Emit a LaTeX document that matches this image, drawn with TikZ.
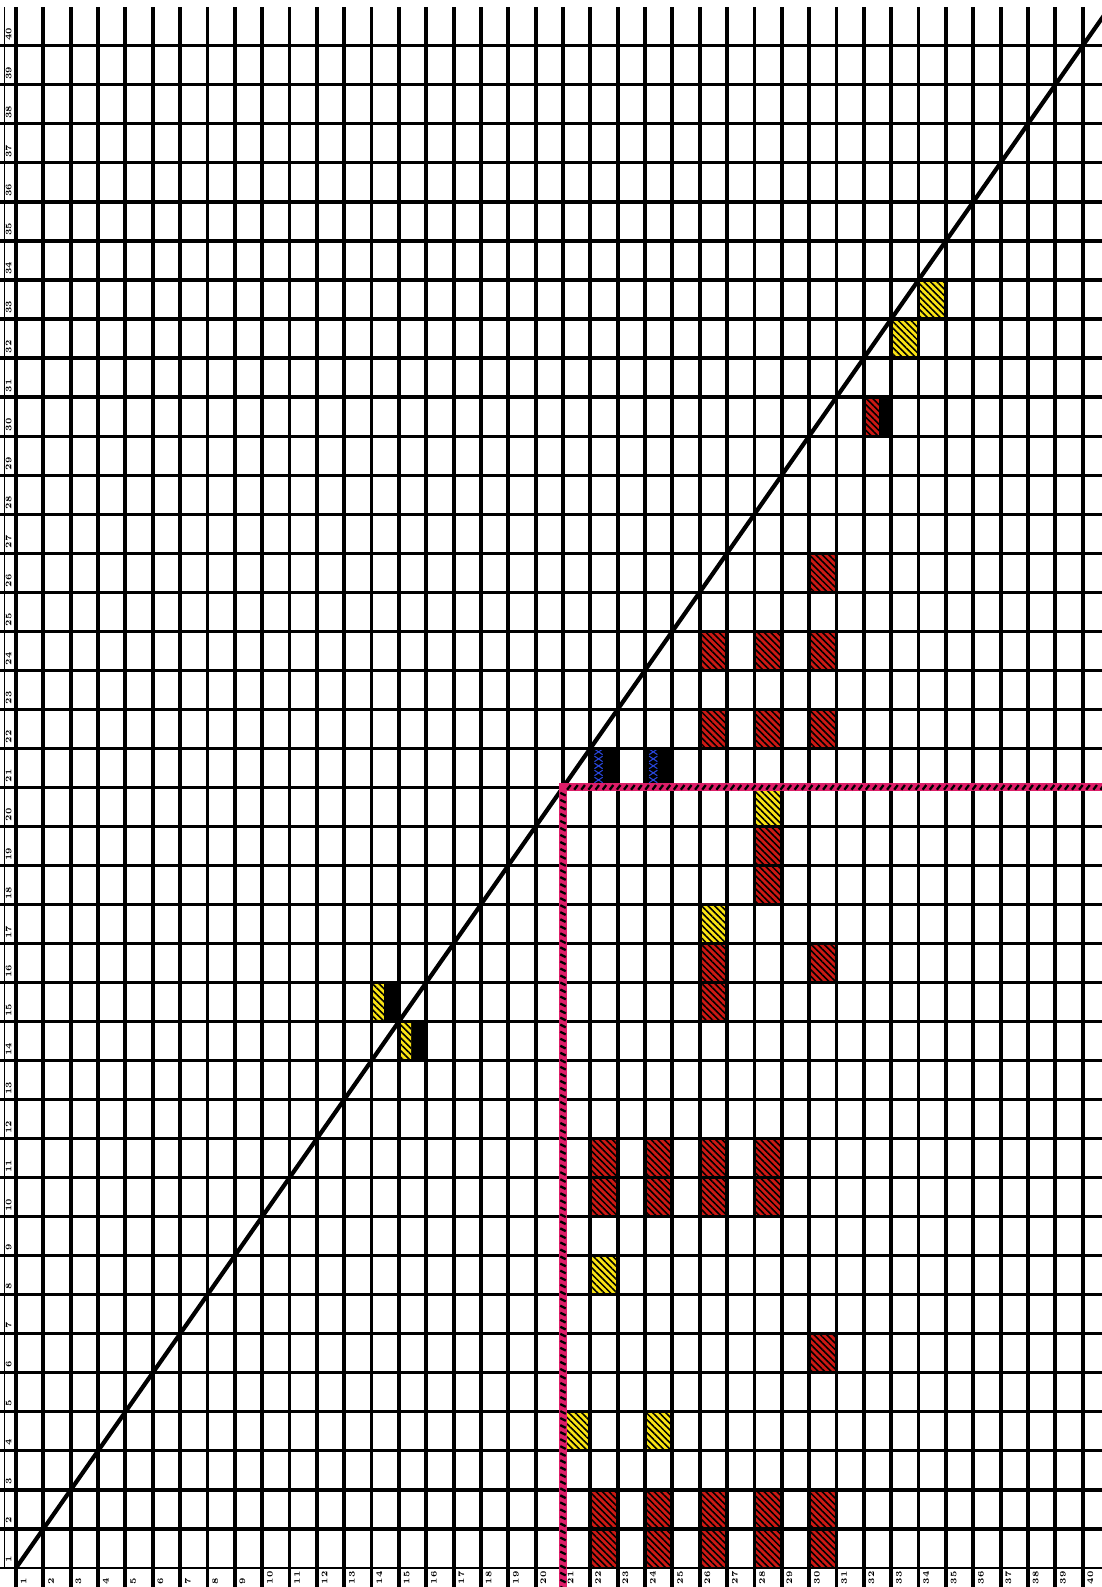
\documentclass[tikz,border=0pt]{standalone}
\usepackage{tikz}
\usetikzlibrary{patterns.meta}

\definecolor{cellred}{RGB}{205,25,20}
\definecolor{cellyellow}{RGB}{250,228,20}
\definecolor{borderpink}{RGB}{222,30,105}
\definecolor{stitchblue}{RGB}{40,70,220}

\begin{document}
\begin{tikzpicture}[x=0.547cm,y=0.7806cm,
  colline/.style={black,line width=2.2pt},
  rowline/.style={black,line width=1.8pt},
  redcell/.style={fill=cellred,rounded corners=1pt,
    postaction={pattern={Lines[angle=-45,distance=2.6pt,line width=0.9pt]},pattern color=black}},
  yellowcell/.style={fill=cellyellow,rounded corners=1pt,
    postaction={pattern={Lines[angle=-45,distance=2.6pt,line width=0.9pt]},pattern color=black}},
  tick/.style={black,line width=1.3pt},
  numlabel/.style={font=\fontsize{4.8}{5}\selectfont\bfseries,inner sep=0pt,rotate=90,anchor=west}]
  \useasboundingbox (-0.585,-0.487) rectangle (39.707,40.174);
  \clip (-0.585,-0.487) rectangle (39.707,40.174);
  \fill[white] (-0.585,-0.487) rectangle (39.707,40.174);
  % hatched cells
  \foreach \c/\r in {22/1,22/2,24/1,24/2,26/1,26/2,28/1,28/2,30/1,30/2,30/6,
      22/10,22/11,24/10,24/11,26/10,26/11,28/10,28/11,26/15,26/16,30/16,
      28/18,28/19,26/22,28/22,30/22,26/24,28/24,30/24,30/26}
    \path[redcell] (\c-1,\r-1) rectangle (\c,\r);
  \foreach \c/\r in {21/4,24/4,22/8,26/17,28/20,33/32,34/33}
    \path[yellowcell] (\c-1,\r-1) rectangle (\c,\r);
  % half cells
  \foreach \c/\r in {14/15,15/14} {
    \fill[black] (\c-0.55,\r-1) rectangle (\c,\r);
    \path[yellowcell] (\c-1,\r-1) rectangle (\c-0.55,\r);
  }
  \fill[black] (31.55,29) rectangle (32,30);
  \path[redcell] (31,29) rectangle (31.55,30);
  \foreach \c in {22,24} {
    \fill[black] (\c-1,20) rectangle (\c,21);
    \foreach \k in {0,...,4}
      \draw[stitchblue,line width=0.6pt]
        (\c-0.85,20.12+0.18*\k) -- (\c-0.55,20.26+0.18*\k)
        (\c-0.85,20.26+0.18*\k) -- (\c-0.55,20.12+0.18*\k);
  }
  % grid
  \foreach \i in {0,...,39}
    \draw[colline] (\i,-0.6) -- (\i,40);
  \foreach \j in {1,...,39}
    \draw[rowline] (-0.6,\j) -- (40.5,\j);
  \draw[black,line width=0.7pt] (-0.6,0) -- (40.5,0);
  \draw[black,line width=0.5pt] (-0.42,0) -- (-0.42,40);
  % diagonal
  \coordinate (O) at (0,0);
  \coordinate (T) at (40,40);
  \draw[black,line width=2.4pt] (O) -- (T);
  % border line
  \coordinate (P1) at (20,-0.6);
  \coordinate (P2) at (20,20);
  \coordinate (P3) at (40.5,20);
  \draw[borderpink,line width=4.6pt] (P1) -- (P2) -- (P3);
  \foreach \y in {-0.55,-0.37,...,19.85}
    \draw[tick] (19.9,\y+0.07) -- (20.1,\y);
  \foreach \x in {20.15,20.41,...,40.3}
    \draw[tick] (\x,19.94) -- (\x+0.13,20.06);
  % labels
  \foreach \r in {1,...,40}
    \node[numlabel] (row\r) at (-0.27,\r-0.88) {\r};
  \foreach \c in {1,...,40}
    \node[numlabel] (col\c) at (\c-0.72,-0.42) {\c};
\end{tikzpicture}
\end{document}
